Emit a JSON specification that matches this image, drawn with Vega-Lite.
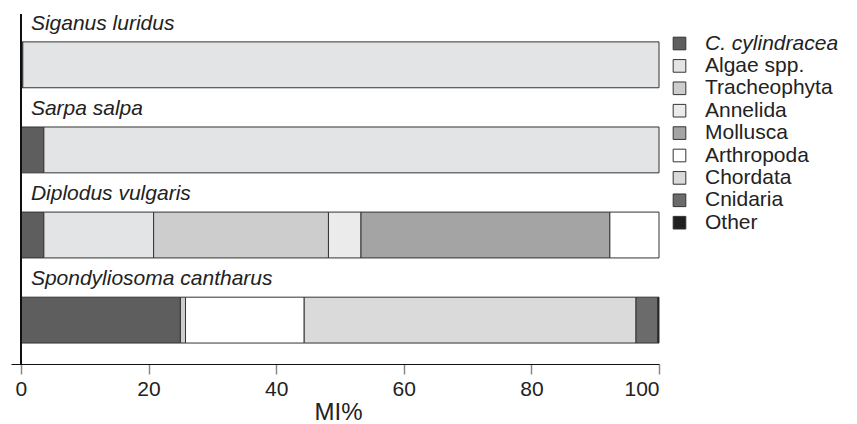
{
  "$schema": "https://vega.github.io/schema/vega-lite/v6.json",
  "width": 648,
  "height": 350,
  "padding": {"left": 11, "top": 12, "right": 0, "bottom": 0},
  "background": "white",
  "config": {"view": {"stroke": null}, "font": "Liberation Sans"},
  "data": {
    "values": [
      {"species": "Siganus luridus", "category": "C. cylindracea", "MI": 0.3},
      {"species": "Siganus luridus", "category": "Algae spp.", "MI": 99.7},
      {"species": "Sarpa salpa", "category": "C. cylindracea", "MI": 3.6},
      {"species": "Sarpa salpa", "category": "Algae spp.", "MI": 96.4},
      {"species": "Diplodus vulgaris", "category": "C. cylindracea", "MI": 3.6},
      {"species": "Diplodus vulgaris", "category": "Algae spp.", "MI": 17.2},
      {"species": "Diplodus vulgaris", "category": "Tracheophyta", "MI": 27.4},
      {"species": "Diplodus vulgaris", "category": "Annelida", "MI": 5.1},
      {"species": "Diplodus vulgaris", "category": "Mollusca", "MI": 39.0},
      {"species": "Diplodus vulgaris", "category": "Arthropoda", "MI": 7.7},
      {"species": "Spondyliosoma cantharus", "category": "C. cylindracea", "MI": 25.0},
      {"species": "Spondyliosoma cantharus", "category": "Tracheophyta", "MI": 0.8},
      {"species": "Spondyliosoma cantharus", "category": "Arthropoda", "MI": 18.6},
      {"species": "Spondyliosoma cantharus", "category": "Chordata", "MI": 52.0},
      {"species": "Spondyliosoma cantharus", "category": "Cnidaria", "MI": 3.4},
      {"species": "Spondyliosoma cantharus", "category": "Other", "MI": 0.2}
    ]
  },
  "transform": [
    {"calculate": "indexof(['C. cylindracea','Algae spp.','Tracheophyta','Annelida','Mollusca','Arthropoda','Chordata','Cnidaria','Other'], datum.category)", "as": "k"}
  ],
  "layer": [
    {
      "mark": {"type": "bar", "stroke": "#333", "strokeWidth": 1},
      "encoding": {
        "y": {
          "field": "species", "type": "nominal",
          "sort": ["Siganus luridus", "Sarpa salpa", "Diplodus vulgaris", "Spondyliosoma cantharus"],
          "scale": {"paddingInner": 0.461, "paddingOuter": 0.287, "align": 0.571},
          "axis": null
        },
        "x": {
          "field": "MI", "type": "quantitative", "stack": "zero",
          "scale": {"domain": [-1.55, 100], "nice": false, "zero": false},
          "axis": {
            "values": [0, 20, 40, 60, 80, 100],
            "title": "MI%", "grid": false,
            "domainColor": "#111", "domainWidth": 1,
            "tickColor": "#888", "tickSize": 10, "tickWidth": 1.5,
            "labelFontSize": 21, "labelColor": "#222", "labelPadding": 4,
            "labelFont": "Liberation Sans",
            "titleFont": "Liberation Sans", "titleFontSize": 24, "titleFontWeight": "normal",
            "titleColor": "#222", "titlePadding": 1, "titleX": 327
          }
        },
        "color": {
          "field": "category", "type": "nominal",
          "scale": {
            "domain": ["C. cylindracea", "Algae spp.", "Tracheophyta", "Annelida", "Mollusca", "Arthropoda", "Chordata", "Cnidaria", "Other"],
            "range": ["#5e5e5e", "#e3e4e6", "#cdcdcd", "#ebebeb", "#a4a4a4", "#ffffff", "#dadada", "#6b6b6b", "#1f1f1f"]
          },
          "legend": {
            "title": null, "orient": "none", "legendX": 658, "legendY": 19,
            "symbolType": "square", "symbolSize": 160,
            "symbolStrokeColor": "#333", "symbolStrokeWidth": 1, "symbolOpacity": 1,
            "labelFontSize": 21, "labelFont": "Liberation Sans", "labelColor": "#222",
            "labelFontStyle": {"expr": "datum.value == 'C. cylindracea' ? 'italic' : 'normal'"},
            "labelOffset": 15, "rowPadding": 0.4, "padding": 0, "labelLimit": 250
          }
        },
        "order": {"field": "k", "type": "quantitative"}
      }
    },
    {
      "mark": {"type": "rule", "color": "#111", "strokeWidth": 1},
      "encoding": {"x": {"datum": 0}}
    },
    {
      "transform": [{"aggregate": [{"op": "count", "as": "n"}], "groupby": ["species"]}],
      "mark": {"type": "text", "align": "left", "baseline": "alphabetic", "dx": 10, "dy": -35, "fontStyle": "italic", "fontSize": 21, "font": "Liberation Sans", "color": "#222"},
      "encoding": {
        "y": {"field": "species", "type": "nominal", "sort": ["Siganus luridus", "Sarpa salpa", "Diplodus vulgaris", "Spondyliosoma cantharus"]},
        "x": {"datum": 0},
        "text": {"field": "species"}
      }
    }
  ]
}
